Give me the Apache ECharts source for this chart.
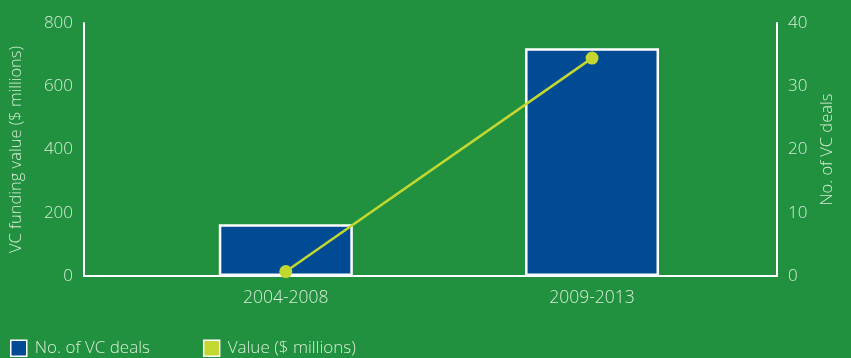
<!DOCTYPE html>
<html>
<head>
<meta charset="utf-8">
<script src="https://cdn.jsdelivr.net/npm/echarts@6/dist/echarts.min.js"></script>
<style>
  html, body { margin: 0; padding: 0; background: #21913f; }
  #chart { width: 851px; height: 358px; }
</style>
</head>
<body>
<div id="chart"></div>
<script>
// periods, placed at x = 1 and x = 2 on a value axis
let periods = ['2004-2008', '2009-2013']
let periodPos = [1, 2]
let deals = [8.2, 36]
let valueMillions = [14, 689]
let leftTicks = [0, 200, 400, 600, 800]
let rightTicks = [0, 10, 20, 30, 40]

let textColor = '#d6ecd6'
let font = 'Open Sans, Noto Sans, sans-serif'

let chart = echarts.init(document.getElementById('chart'))
chart.setOption({
  backgroundColor: '#21913f',
  animation: false,
  textStyle: { fontFamily: font, fontWeight: 300 },
  grid: { left: 80, right: 74, top: 23, bottom: 82 },
  legend: {
    left: 10,
    bottom: 1,
    padding: 0,
    itemWidth: 16,
    itemHeight: 16,
    itemGap: 53,
    textStyle: { color: textColor, fontSize: 17, fontFamily: font, fontWeight: 300, padding: [0, 0, 0, 3] },
    data: [
      { name: 'No. of VC deals', icon: 'rect', itemStyle: { color: '#004b93', borderColor: '#fff', borderWidth: 1.5 } },
      { name: 'Value ($ millions)', icon: 'rect', itemStyle: { color: '#c3d731', borderColor: '#fff', borderWidth: 1.5 } }
    ]
  },
  xAxis: {
    type: 'value',
    min: 0.341,
    max: 2.604,
    splitLine: { show: false },
    axisLine: { show: true, onZero: false, lineStyle: { color: '#fff', width: 2 } },
    axisTick: { show: false },
    axisLabel: {
      customValues: periodPos,
      color: textColor,
      fontSize: 17.5,
      fontWeight: 300,
      margin: 13,
      formatter: function (v) {
        return periods[periodPos.indexOf(v)]
      }
    }
  },
  yAxis: [
    {
      type: 'value',
      min: leftTicks[0],
      max: leftTicks[leftTicks.length - 1],
      interval: 200,
      name: 'VC funding value ($ millions)',
      nameLocation: 'middle',
      nameRotate: 90,
      nameGap: 59,
      nameTextStyle: { color: textColor, fontSize: 16.5, fontWeight: 300 },
      splitLine: { show: false },
      axisLine: { show: true, lineStyle: { color: '#fff', width: 2 } },
      axisTick: { show: false },
      axisLabel: { color: textColor, fontSize: 17, fontWeight: 300, margin: 11 }
    },
    {
      type: 'value',
      min: rightTicks[0],
      max: rightTicks[rightTicks.length - 1],
      interval: 10,
      name: 'No. of VC deals',
      nameLocation: 'middle',
      nameRotate: 90,
      nameGap: 42,
      nameTextStyle: { color: textColor, fontSize: 16.5, fontWeight: 300, verticalAlign: 'bottom' },
      splitLine: { show: false },
      axisLine: { show: true, lineStyle: { color: '#fff', width: 2 } },
      axisTick: { show: false },
      axisLabel: { color: textColor, fontSize: 17, fontWeight: 300, margin: 11 }
    }
  ],
  series: [
    {
      name: 'No. of VC deals',
      type: 'bar',
      yAxisIndex: 1,
      barWidth: 134,
      data: periodPos.map((p, i) => [p, deals[i]]),
      itemStyle: { color: '#004b93', borderColor: '#fff', borderWidth: 2.5 }
    },
    {
      name: 'Value ($ millions)',
      type: 'line',
      yAxisIndex: 0,
      data: periodPos.map((p, i) => [p, valueMillions[i]]),
      symbol: 'circle',
      symbolSize: 13,
      lineStyle: { color: '#c3d731', width: 2.5 },
      itemStyle: { color: '#c3d731' },
      z: 5
    }
  ]
})
</script>
</body>
</html>
